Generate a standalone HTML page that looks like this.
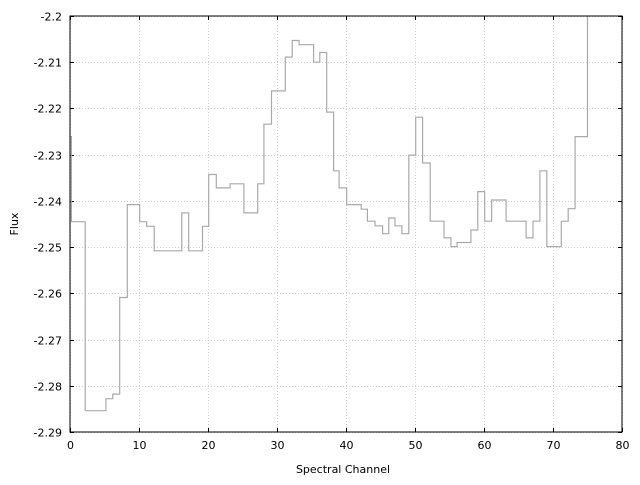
<!DOCTYPE html>
<html><head><meta charset="utf-8"><style>
body{margin:0;background:#fff;}
svg text{font-family:"DejaVu Sans","Liberation Sans",sans-serif;font-size:11px;fill:#000;}
</style></head><body>
<svg id="chart" width="640" height="480" xmlns="http://www.w3.org/2000/svg">
<defs><clipPath id="clip"><rect x="70" y="16" width="552" height="416"/></clipPath></defs>
<g id="grid"></g>
<g id="ticks"></g>
<path id="series" fill="none" stroke="#aaaaaa" stroke-width="1.2" clip-path="url(#clip)"/>
<rect x="70" y="16" width="552" height="416" fill="none" stroke="#000" stroke-width="1"/>
<text x="343" y="473" text-anchor="middle">Spectral Channel</text>
<text x="18" y="224" text-anchor="middle" transform="rotate(-90 18 224)">Flux</text>
</svg>
<script>
const edges=[0,0.2,2.2,5.2,6.2,7.2,8.3,10.1,11.1,12.2,16.2,17.2,19.2,20.1,21.2,23.2,25.2,27.2,28.1,29.2,31.2,32.2,33.2,35.3,36.2,37.2,38.2,39.0,40.1,42.2,43.1,44.2,45.3,46.2,47.1,48.1,49.1,50.1,51.1,52.2,54.2,55.2,56.1,58.1,59.1,60.1,61.1,63.2,66.1,67.1,68.1,69.1,71.2,72.2,73.2,75.0,76];
const flux=[-2.2261,-2.2445,-2.2854,-2.2828,-2.2818,-2.2609,-2.2408,-2.2445,-2.2455,-2.2508,-2.2426,-2.2508,-2.2455,-2.2343,-2.2372,-2.2363,-2.2426,-2.2363,-2.2234,-2.2162,-2.2089,-2.2053,-2.2062,-2.2100,-2.2079,-2.2208,-2.2335,-2.2372,-2.2408,-2.2418,-2.2444,-2.2454,-2.2471,-2.2437,-2.2454,-2.2471,-2.2301,-2.2219,-2.2318,-2.2444,-2.2480,-2.2499,-2.2490,-2.2463,-2.2380,-2.2444,-2.2398,-2.2444,-2.2480,-2.2444,-2.2335,-2.2499,-2.2444,-2.2417,-2.2261,-2.1900];
const xTicks=[0,10,20,30,40,50,60,70,80];
const yTicks=[-2.2,-2.21,-2.22,-2.23,-2.24,-2.25,-2.26,-2.27,-2.28,-2.29];
const X0=70,X1=622,Y0=16,Y1=432,xmin=0,xmax=80,ymax=-2.2,ymin=-2.29;
const sx=v=>X0+(v-xmin)/(xmax-xmin)*(X1-X0);
const sy=v=>Y0+(ymax-v)/(ymax-ymin)*(Y1-Y0);
const NS='http://www.w3.org/2000/svg';
const grid=document.getElementById('grid'),ticks=document.getElementById('ticks');
function ln(p,x1,y1,x2,y2,st,da){const l=document.createElementNS(NS,'line');l.setAttribute('x1',x1);l.setAttribute('y1',y1);l.setAttribute('x2',x2);l.setAttribute('y2',y2);l.setAttribute('stroke',st);if(da)l.setAttribute('stroke-dasharray',da);p.appendChild(l);return l;}
function tx(x,y,s,a){const t=document.createElementNS(NS,'text');t.setAttribute('x',x);t.setAttribute('y',y);t.setAttribute('text-anchor',a);t.textContent=s;ticks.appendChild(t);return t;}
xTicks.forEach(v=>{const x=Math.round(sx(v))+0.5;
 const g=ln(grid,x,Y0,x,Y1,'#d0d0d0','1,2');
 
 
 ln(ticks,x,Y1,x,Y1-4,'#000');ln(ticks,x,Y0,x,Y0+4,'#000');
 const t=tx(x,449,String(v),'middle');
 
 });
yTicks.forEach(v=>{const y=Math.round(sy(v))+0.5;
 const g=ln(grid,X0,y,X1,y,'#d0d0d0','1,2');
 
 
 ln(ticks,X0,y,X0+4,y,'#000');ln(ticks,X1,y,X1-4,y,'#000');
 const t=tx(62,y+4,String(v),'end');
 
 });
let d='';
for(let i=0;i<flux.length;i++){const y=sy(flux[i]).toFixed(1);
 d+=(i===0?'M':'L')+sx(edges[i]).toFixed(1)+','+y+'L'+sx(edges[i+1]).toFixed(1)+','+y;}
document.getElementById('series').setAttribute('d',d);
</script>
</body></html>
